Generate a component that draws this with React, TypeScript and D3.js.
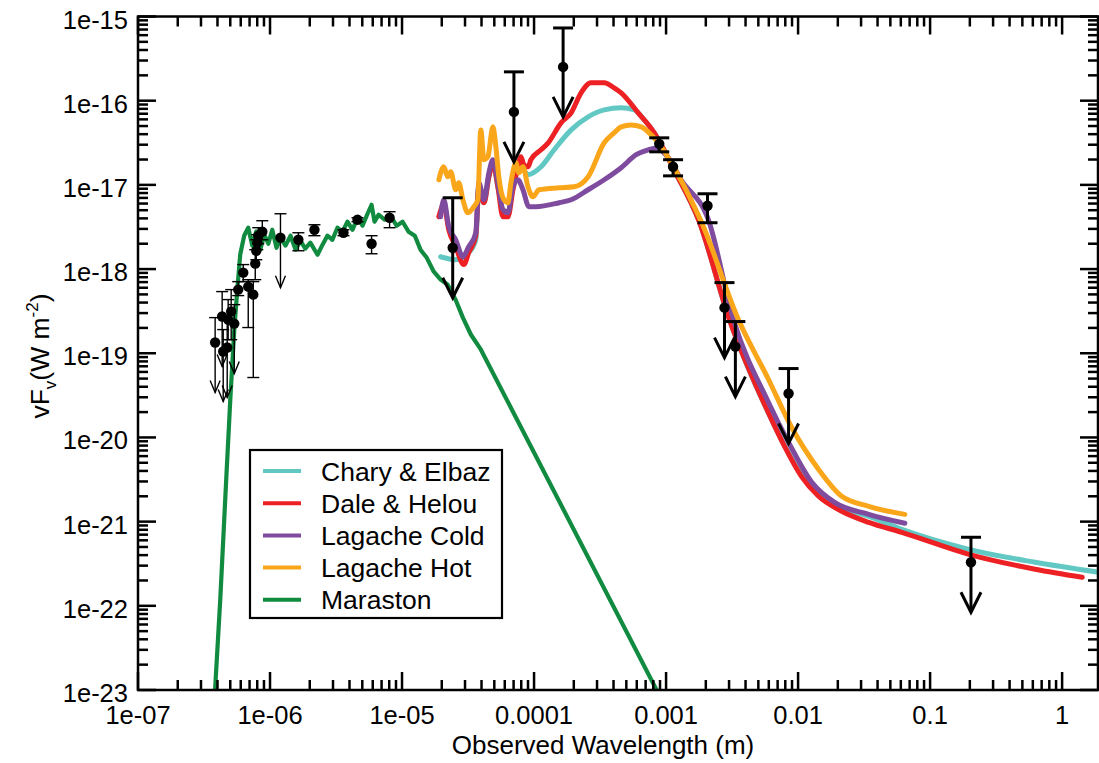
import React from "react";
import * as d3 from "d3";

type Pt = [number, number];
// [wavelength, flux, upper error, lower error or null for an upper limit]
type Obs = [number, number, number, number | null];

const xTickValues = [1e-7, 1e-6, 1e-5, 1e-4, 1e-3, 1e-2, 1e-1, 1];
const xTickLabels = ["1e-07", "1e-06", "1e-05", "0.0001", "0.001", "0.01", "0.1", "1"];
const yTickValues = [1e-15, 1e-16, 1e-17, 1e-18, 1e-19, 1e-20, 1e-21, 1e-22, 1e-23];
const yTickLabels = ["1e-15", "1e-16", "1e-17", "1e-18", "1e-19", "1e-20", "1e-21", "1e-22", "1e-23"];

const seriesNames = ["Chary & Elbaz", "Dale & Helou", "Lagache Cold", "Lagache Hot", "Maraston"];
const seriesColors = ["#62c8c3", "#ed2024", "#7f4b9e", "#faa61a", "#108b3f"];

const maraston: Pt[] = [
  [3.78e-7, 6.8e-24], [4.2e-7, 1.2e-22], [4.66e-7, 3.2e-21], [5.0e-7, 2.8e-20], [5.36e-7, 1.9e-19],
  [5.65e-7, 5.7e-19], [5.95e-7, 1.5e-18], [6.38e-7, 2.5e-18], [6.84e-7, 3.1e-18], [7.34e-7, 1.9e-18],
  [7.87e-7, 2.8e-18], [8.44e-7, 1.7e-18], [9.05e-7, 2.56e-18], [9.71e-7, 2.0e-18], [1.04e-6, 2.93e-18],
  [1.12e-6, 1.79e-18], [1.2e-6, 2.36e-18], [1.31e-6, 1.9e-18], [1.43e-6, 2.49e-18], [1.56e-6, 1.7e-18],
  [1.7e-6, 2.17e-18], [1.85e-6, 1.75e-18], [2.02e-6, 2.06e-18], [2.29e-6, 1.48e-18], [2.5e-6, 1.95e-18],
  [2.72e-6, 2.49e-18], [2.97e-6, 2.23e-18], [3.24e-6, 3.1e-18], [3.54e-6, 2.78e-18], [3.86e-6, 3.65e-18],
  [4.22e-6, 2.93e-18], [4.6e-6, 4.07e-18], [5.02e-6, 3.27e-18], [5.48e-6, 4.54e-18], [5.88e-6, 5.8e-18],
  [6.19e-6, 3.65e-18], [6.64e-6, 4.42e-18], [7.38e-6, 3.86e-18], [8.19e-6, 4.3e-18], [9.1e-6, 3.27e-18],
  [1.01e-5, 3.65e-18], [1.12e-5, 2.78e-18], [1.25e-5, 2.49e-18], [1.38e-5, 1.7e-18], [1.54e-5, 1.36e-18],
  [1.74e-5, 9.3e-19], [1.96e-5, 7.5e-19], [2.22e-5, 6.5e-19], [2.55e-5, 4.3e-19], [2.89e-5, 2.65e-19],
  [3.32e-5, 1.67e-19], [3.95e-5, 1.11e-19], [9.2e-4, 7.8e-24],
];

const charyElbaz: Pt[] = [
  [1.96e-5, 1.4e-18], [2.55e-5, 1.29e-18], [3.2e-5, 1.57e-18], [3.62e-5, 2.23e-18], [3.82e-5, 8.75e-18],
  [4.17e-5, 6.13e-18], [4.55e-5, 1.25e-17], [4.88e-5, 1.83e-17], [5.32e-5, 9.5e-18], [5.81e-5, 5.07e-18],
  [6.34e-5, 4.67e-18], [6.92e-5, 9.5e-18], [7.55e-5, 1.51e-17], [8.24e-5, 1.51e-17], [8.99e-5, 1.32e-17],
  [1.13e-4, 1.64e-17], [1.42e-4, 2.61e-17], [1.91e-4, 4.5e-17], [2.57e-4, 6.43e-17], [3.4e-4, 7.78e-17],
  [4.57e-4, 8.22e-17], [5.74e-4, 7.78e-17], [6.83e-4, 5.92e-17], [8.14e-4, 4.15e-17], [9.19e-4, 2.99e-17],
  [1.15e-3, 1.51e-17], [1.76e-3, 3.86e-18], [3.02e-3, 2.51e-19], [6.29e-3, 1.64e-20], [1.06e-2, 3.64e-21],
  [1.43e-2, 2.17e-21], [2.14e-2, 1.48e-21], [3.61e-2, 1.12e-21], [6.11e-2, 8.11e-22], [0.197, 4.69e-22],
  [0.625, 3.29e-22], [1.91, 2.5e-22],
];

const daleHelou: Pt[] = [
  [1.9e-5, 4.18e-18], [2.07e-5, 5.8e-18], [2.26e-5, 2.93e-18], [2.55e-5, 1.84e-18], [2.94e-5, 1.13e-18],
  [3.2e-5, 1.57e-18], [3.62e-5, 2.49e-18], [3.82e-5, 9.5e-18], [4.17e-5, 6.13e-18], [4.55e-5, 1.25e-17],
  [4.88e-5, 1.83e-17], [5.32e-5, 9.5e-18], [5.81e-5, 4.18e-18], [6.34e-5, 4.18e-18], [6.92e-5, 8.75e-18],
  [7.55e-5, 1.64e-17], [7.95e-5, 2.16e-17], [8.38e-5, 1.73e-17], [8.99e-5, 1.64e-17], [9.47e-5, 1.99e-17],
  [1.13e-4, 2.61e-17], [1.28e-4, 3.16e-17], [1.6e-4, 5.46e-17], [1.91e-4, 7.17e-17], [2.27e-4, 1.24e-16],
  [2.7e-4, 1.63e-16], [3.4e-4, 1.63e-16], [4.04e-4, 1.42e-16], [4.57e-4, 1.24e-16], [6.15e-4, 7.17e-17],
  [8.14e-4, 4.15e-17], [9.19e-4, 2.99e-17], [1.15e-3, 1.51e-17], [1.76e-3, 3.86e-18], [3.02e-3, 2.51e-19],
  [6.29e-3, 1.64e-20], [7.9e-3, 7.82e-21], [1.06e-2, 3.45e-21], [1.43e-2, 2.0e-21], [2.14e-2, 1.33e-21],
  [3.43e-2, 9.8e-22], [6.11e-2, 7.46e-22], [0.197, 4.09e-22], [0.625, 2.72e-22], [1.42, 2.18e-22],
];

const lagacheCold: Pt[] = [
  [1.96e-5, 4.18e-18], [2.07e-5, 6.66e-18], [2.26e-5, 3.19e-18], [2.55e-5, 2.23e-18], [2.89e-5, 1.4e-18],
  [3.2e-5, 1.84e-18], [3.62e-5, 2.7e-18], [3.82e-5, 1.06e-17], [4.17e-5, 6.66e-18], [4.55e-5, 1.39e-17],
  [4.88e-5, 1.99e-17], [5.32e-5, 1.06e-17], [5.81e-5, 5.07e-18], [6.34e-5, 4.67e-18], [6.92e-5, 9.5e-18],
  [7.55e-5, 1.15e-17], [8.24e-5, 8.75e-18], [9.15e-5, 5.5e-18], [1.03e-4, 5.5e-18], [1.55e-4, 6.13e-18],
  [1.91e-4, 6.66e-18], [2.57e-4, 8.75e-18], [3.4e-4, 1.15e-17], [4.57e-4, 1.6e-17], [5.94e-4, 2.28e-17],
  [7.32e-4, 2.61e-17], [8.43e-4, 2.75e-17], [1.04e-3, 2.1e-17], [1.3e-3, 1.15e-17], [2.09e-3, 3.86e-18],
  [3.24e-3, 2.51e-19], [5.97e-3, 2.6e-20], [8.47e-3, 8.73e-21], [1.27e-2, 2.93e-21], [1.89e-2, 1.69e-21],
  [3.43e-2, 1.22e-21], [6.44e-2, 9.55e-22],
];

const lagacheHot: Pt[] = [
  [1.9e-5, 1.15e-17], [2.07e-5, 1.64e-17], [2.22e-5, 1.25e-17], [2.34e-5, 1.43e-17], [2.55e-5, 8.75e-18],
  [2.69e-5, 1.06e-17], [2.89e-5, 6.66e-18], [3.15e-5, 4.67e-18], [3.5e-5, 5.5e-18], [3.75e-5, 6.66e-18],
  [3.95e-5, 4.5e-17], [4.17e-5, 1.99e-17], [4.47e-5, 2.16e-17], [4.88e-5, 4.89e-17], [5.14e-5, 2.83e-17],
  [5.41e-5, 1.25e-17], [5.91e-5, 6.66e-18], [6.34e-5, 6.13e-18], [6.68e-5, 1.06e-17], [7.29e-5, 1.83e-17],
  [7.68e-5, 1.39e-17], [8.24e-5, 1.64e-17], [8.99e-5, 9.5e-18], [9.81e-5, 7.23e-18], [1.09e-4, 8.75e-18],
  [1.55e-4, 9.24e-18], [2.01e-4, 9.5e-18], [2.57e-4, 1.25e-17], [3.4e-4, 3.16e-17], [4.04e-4, 4.15e-17],
  [4.57e-4, 4.89e-17], [5.44e-4, 5.16e-17], [6.48e-4, 4.89e-17], [7.72e-4, 3.93e-17], [8.73e-4, 3.16e-17],
  [1.15e-3, 1.6e-17], [1.48e-3, 7.63e-18], [1.85e-3, 3.65e-18], [3.53e-3, 2.51e-19], [5.97e-3, 4.88e-20],
  [8.93e-3, 1.32e-20], [1.43e-2, 4.17e-21], [2.14e-2, 2.0e-21], [3.43e-2, 1.52e-21], [6.44e-2, 1.22e-21],
];

const seriesData = [charyElbaz, daleHelou, lagacheCold, lagacheHot];

// optical / near-IR photometry (thin bars)
const opticalObs: Obs[] = [
  [3.84e-7, 1.34e-19, 2.65e-19, null],
  [4.34e-7, 2.73e-19, 5.4e-19, null],
  [4.42e-7, 1.05e-19, 1.91e-19, null],
  [4.74e-7, 1.17e-19, 2.51e-19, null],
  [4.82e-7, 2.51e-19, 4.34e-19, 1.45e-19],
  [5.08e-7, 3.13e-19, 5.7e-19, 1.45e-19],
  [5.36e-7, 2.25e-19, 3.78e-19, null],
  [5.74e-7, 5.7e-19, 7.09e-19, 4.84e-19],
  [6.27e-7, 9.06e-19, 1.13e-18, 7.09e-19],
  [6.84e-7, 6.18e-19, 7.48e-19, 2.02e-19],
  [7.47e-7, 4.97e-19, 7.09e-19, 5.15e-20],
  [7.73e-7, 1.16e-18, 1.7e-18, 7.48e-19],
  [7.87e-7, 1.65e-18, 2.23e-18, 1.29e-18],
  [8.01e-7, 2.06e-18, 2.56e-18, 1.7e-18],
  [8.15e-7, 2.49e-18, 3.1e-18, 2.0e-18],
  [8.74e-7, 2.78e-18, 3.75e-18, 2.23e-18],
  [1.2e-6, 2.36e-18, 4.54e-18, null],
  [1.64e-6, 2.23e-18, 2.7e-18, 1.65e-18],
  [2.17e-6, 2.93e-18, 3.36e-18, 2.49e-18],
  [3.6e-6, 2.7e-18, 2.93e-18, 2.49e-18],
  [4.6e-6, 3.86e-18, 4.07e-18, 3.65e-18],
  [5.88e-6, 2.0e-18, 2.49e-18, 1.52e-18],
  [8.05e-6, 4.07e-18, 4.8e-18, 3.1e-18],
];

// mid-IR to radio photometry (thick bars)
const infraredObs: Obs[] = [
  [2.42e-5, 1.79e-18, 7.03e-18, null],
  [7.04e-5, 7.36e-17, 2.2e-16, null],
  [1.66e-4, 2.52e-16, 7.31e-16, null],
  [8.88e-4, 3.07e-17, 3.62e-17, 2.47e-17],
  [1.13e-3, 1.64e-17, 1.99e-17, 1.28e-17],
  [2.06e-3, 5.65e-18, 7.84e-18, 3.55e-18],
  [2.77e-3, 3.48e-19, 6.9e-19, null],
  [3.35e-3, 1.2e-19, 2.38e-19, null],
  [8.47e-3, 3.33e-20, 6.58e-20, null],
  [0.204, 3.29e-22, 6.52e-22, null],
];

const FONT = "'Liberation Sans', Arial, Helvetica, sans-serif";

function ObsMarks({ data, x, y, thick }: { data: Obs[]; x: any; y: any; thick: boolean }) {
  const sw = thick ? 3 : 1.4;
  const cap = thick ? 10 : 6;
  const arrowLen = 50;
  const hw = thick ? 10 : 5;
  const hh = thick ? 20 : 12;
  return (
    <g stroke="#000" strokeWidth={sw} fill="none">
      {data.map((d, i) => {
        const cx = x(d[0]);
        const cy = y(d[1]);
        const yh = y(d[2]);
        if (d[3] === null) {
          const tip = cy + arrowLen;
          return (
            <g key={i}>
              <line x1={cx} x2={cx} y1={yh} y2={tip} />
              <line x1={cx - cap} x2={cx + cap} y1={yh} y2={yh} />
              <polyline points={`${cx - hw},${tip - hh} ${cx},${tip} ${cx + hw},${tip - hh}`} />
              <circle cx={cx} cy={cy} r={5.2} fill="#000" stroke="none" />
            </g>
          );
        }
        const yl = y(d[3]);
        return (
          <g key={i}>
            <line x1={cx} x2={cx} y1={yh} y2={yl} />
            <line x1={cx - cap} x2={cx + cap} y1={yh} y2={yh} />
            <line x1={cx - cap} x2={cx + cap} y1={yl} y2={yl} />
            <circle cx={cx} cy={cy} r={5.2} fill="#000" stroke="none" />
          </g>
        );
      })}
    </g>
  );
}

export default function App() {
  const width = 1099;
  const height = 763;
  const m = { left: 138, right: 1098, top: 16.5, bottom: 690 };
  const xMax = 1.87;

  const x = d3.scaleLog().domain([1e-7, xMax]).range([m.left, m.right]);
  const y = d3.scaleLog().domain([1e-23, 1e-15]).range([m.bottom, m.top]);
  const smooth = d3.line<Pt>().x((d) => x(d[0])).y((d) => y(d[1])).curve(d3.curveMonotoneX);
  const jagged = d3.line<Pt>().x((d) => x(d[0])).y((d) => y(d[1]));

  const minorX = d3.range(-7, 1).flatMap((k) => d3.range(2, 10).map((n) => n * Math.pow(10, k))).filter((v) => v < xMax);
  const minorY = d3.range(-23, -15).flatMap((k) => d3.range(2, 10).map((n) => n * Math.pow(10, k)));

  const major = 18;
  const minor = 10;

  return (
    <svg width={width} height={height} style={{ position: "absolute", left: 0, top: 0, background: "#fff" }} fontFamily={FONT}>
      <defs>
        <clipPath id="plot">
          <rect x={m.left} y={m.top} width={m.right - m.left} height={m.bottom - m.top} />
        </clipPath>
      </defs>

      <g clipPath="url(#plot)" fill="none" strokeLinejoin="round" strokeLinecap="round">
        <path d={jagged(maraston) || ""} stroke={seriesColors[4]} strokeWidth={4.2} />
        {seriesData.map((s, i) => (
          <path key={i} d={smooth(s) || ""} stroke={seriesColors[i]} strokeWidth={5} />
        ))}
      </g>

      <ObsMarks data={opticalObs} x={x} y={y} thick={false} />
      <ObsMarks data={infraredObs} x={x} y={y} thick={true} />

      {/* axes box and ticks */}
      <g stroke="#000" strokeWidth={2.5}>
        <rect x={m.left} y={m.top} width={m.right - m.left} height={m.bottom - m.top} fill="none" />
        {xTickValues.map((v, i) => (
          <g key={"xm" + i}>
            <line x1={x(v)} x2={x(v)} y1={m.bottom} y2={m.bottom - major} />
            <line x1={x(v)} x2={x(v)} y1={m.top} y2={m.top + major} />
          </g>
        ))}
        {minorX.map((v, i) => (
          <g key={"xn" + i}>
            <line x1={x(v)} x2={x(v)} y1={m.bottom} y2={m.bottom - minor} />
            <line x1={x(v)} x2={x(v)} y1={m.top} y2={m.top + minor} />
          </g>
        ))}
        {yTickValues.map((v, i) => (
          <g key={"ym" + i}>
            <line x1={m.left} x2={m.left + major} y1={y(v)} y2={y(v)} />
            <line x1={m.right} x2={m.right - major} y1={y(v)} y2={y(v)} />
          </g>
        ))}
        {minorY.map((v, i) => (
          <g key={"yn" + i}>
            <line x1={m.left} x2={m.left + minor} y1={y(v)} y2={y(v)} />
            <line x1={m.right} x2={m.right - minor} y1={y(v)} y2={y(v)} />
          </g>
        ))}
      </g>

      <g fontSize={25.5} fill="#000">
        {xTickValues.map((v, i) => (
          <text key={i} x={x(v)} y={m.bottom + 34} textAnchor="middle">
            {xTickLabels[i]}
          </text>
        ))}
        {yTickValues.map((v, i) => (
          <text key={i} x={m.left - 10} y={y(v) + 12} textAnchor="end">
            {yTickLabels[i]}
          </text>
        ))}
      </g>

      <text x={(m.left + m.right) / 2 - 15} y={754} fontSize={26} textAnchor="middle">
        Observed Wavelength (m)
      </text>

      <text transform="translate(49,356) rotate(-90)" fontSize={26.5} textAnchor="middle">
        vF
        <tspan dy={7} fontSize={17}>v</tspan>
        <tspan dy={-7}>(W m</tspan>
        <tspan dy={-11} fontSize={17}>-2</tspan>
        <tspan dy={11}>)</tspan>
      </text>

      {/* legend */}
      <g>
        <rect x={250} y={450} width={252} height={168} fill="#fff" stroke="#000" strokeWidth={2.2} />
        {seriesNames.map((name, i) => {
          const cy = 471 + i * 32.2;
          return (
            <g key={name}>
              <line x1={263} x2={301} y1={cy} y2={cy} stroke={seriesColors[i]} strokeWidth={4} />
              <text x={321} y={cy + 9.5} fontSize={26.5}>
                {name}
              </text>
            </g>
          );
        })}
      </g>
    </svg>
  );
}
